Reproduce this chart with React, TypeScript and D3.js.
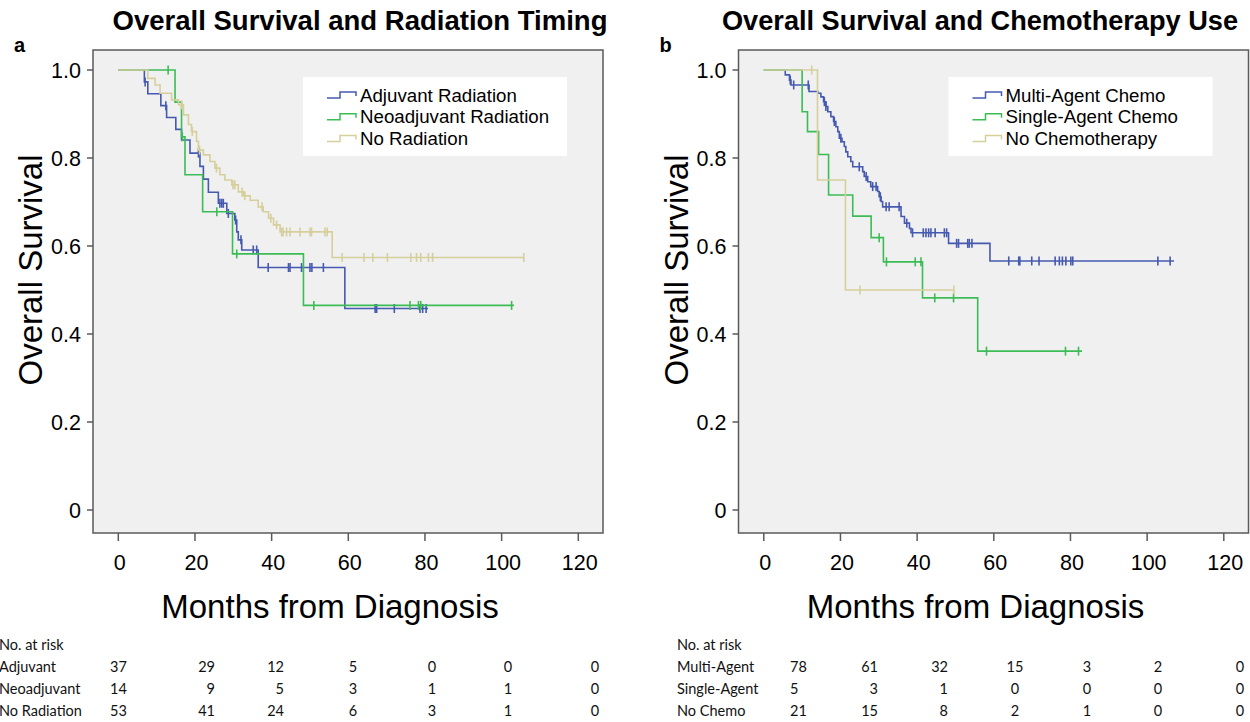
import React from "react";
import * as d3 from "d3";

// Axis ticks shared by both panels.
const monthTicks = [0, 20, 40, 60, 80, 100, 120];
const survivalTicks = [0, 0.2, 0.4, 0.6, 0.8, 1.0];

// Panel a: radiation timing. Steps are [month, survival after that month].
const adjuvantSteps: [number, number][] = [
    [0, 1], [6.8, 0.973], [7.7, 0.946], [11.1, 0.919], [12.6, 0.892], [15.0, 0.865], [16.5, 0.841],
    [18.7, 0.811], [21.3, 0.781], [22.2, 0.752], [23.5, 0.722], [26.1, 0.697], [28.3, 0.674],
    [30.4, 0.659], [30.9, 0.632], [31.3, 0.614], [32.2, 0.591], [36.5, 0.551], [59.1, 0.458],
];
const adjuvantCensored = [
    7.0, 12.4, 20.9, 26.5, 27.0, 27.4, 28.7, 30.6, 32.0, 35.2, 36.1, 39.1, 44.4, 44.8, 47.8, 50.0,
    50.5, 53.5, 67.0, 67.4, 72.0, 78.7, 79.4, 80.3,
];
const adjuvantEnd = 80.8;

const neoadjuvantSteps: [number, number][] = [
    [0, 1], [14.8, 0.927], [16.5, 0.848], [17.4, 0.762], [22.0, 0.678], [29.8, 0.582], [48.3, 0.465],
];
const neoadjuvantCensored = [13.0, 16.7, 25.7, 30.9, 51.0, 76.1, 78.3, 78.9, 102.6];
const neoadjuvantEnd = 103.2;

const noRadiationSteps: [number, number][] = [
    [0, 1], [7.7, 0.981], [9.6, 0.966], [10.9, 0.947], [13.9, 0.932], [15.7, 0.921], [17.0, 0.898],
    [18.3, 0.876], [19.1, 0.86], [20.4, 0.838], [20.9, 0.818], [22.2, 0.807], [23.9, 0.792],
    [25.2, 0.777], [26.5, 0.762], [27.8, 0.75], [29.6, 0.739], [31.3, 0.723], [32.6, 0.714],
    [34.4, 0.704], [36.5, 0.689], [37.8, 0.678], [39.2, 0.663], [40.5, 0.648], [42.2, 0.632],
    [55.8, 0.574],
];
const noRadiationCensored = [
    16.5, 19.3, 21.2, 25.6, 29.9, 30.4, 32.3, 33.0, 37.5, 39.8, 41.3, 42.6, 43.0, 43.9, 44.8, 47.4,
    50.0, 50.4, 53.9, 54.5, 58.4, 64.1, 66.4, 70.2, 76.3, 77.8, 78.9, 80.9, 82.0, 105.8,
];
const noRadiationEnd = 105.8;

// Panel b: chemotherapy use.
const multiAgentSteps: [number, number][] = [
    [0, 1], [5.6, 0.989], [6.7, 0.977], [7.1, 0.966], [11.8, 0.951], [14.1, 0.947], [14.9, 0.939],
    [15.6, 0.928], [16.2, 0.917], [16.7, 0.905], [17.5, 0.894], [18.2, 0.883], [18.8, 0.871],
    [19.3, 0.86], [19.7, 0.845], [20.4, 0.837], [21.0, 0.826], [21.4, 0.814], [21.9, 0.803],
    [22.7, 0.792], [23.2, 0.78], [25.8, 0.769], [26.2, 0.758], [27.1, 0.746], [27.9, 0.735],
    [29.7, 0.724], [30.1, 0.712], [30.6, 0.701], [31.0, 0.689], [35.8, 0.667], [36.7, 0.652],
    [38.0, 0.64], [38.4, 0.63], [48.2, 0.606], [59.0, 0.566],
];
const multiAgentCensored = [
    6.9, 7.8, 11.6, 15.8, 16.2, 18.4, 20.1, 24.9, 26.7, 28.4, 29.3, 30.4, 31.9, 32.7, 35.3, 37.3,
    38.8, 41.6, 42.3, 43.0, 43.6, 44.7, 47.1, 47.7, 50.3, 50.8, 53.2, 53.6, 54.3, 63.9, 66.5, 66.8,
    69.9, 71.8, 76.0, 77.1, 77.9, 78.8, 80.1, 80.6, 102.8, 106.0,
];
const multiAgentEnd = 107;

const singleAgentSteps: [number, number][] = [
    [0, 1], [10.0, 0.905], [11.4, 0.86], [14.3, 0.808], [16.9, 0.716], [23.2, 0.668], [28.0, 0.619],
    [31.2, 0.564], [41.4, 0.482], [55.8, 0.361],
];
const singleAgentCensored = [30.1, 32.0, 39.5, 41.0, 44.6, 49.5, 58.1, 78.7, 82.1];
const singleAgentEnd = 83;

const noChemoSteps: [number, number][] = [[0, 1], [14.0, 0.75], [21.3, 0.5]];
const noChemoCensored = [12.5, 25.1, 49.6];
const noChemoEnd = 49.6;

// Numbers at risk.
const riskLabelsA = ["Adjuvant", "Neoadjuvant", "No Radiation"];
const riskRowsA = [
    [37, 29, 12, 5, 0, 0, 0],
    [14, 9, 5, 3, 1, 1, 0],
    [53, 41, 24, 6, 3, 1, 0],
];
const riskLabelsB = ["Multi-Agent", "Single-Agent", "No Chemo"];
const riskRowsB = [
    [78, 61, 32, 15, 3, 2, 0],
    [5, 3, 1, 0, 0, 0, 0],
    [21, 15, 8, 2, 1, 0, 0],
];

const FONT = "'Liberation Sans', Arial, Helvetica, sans-serif";
const TABLE_FONT = "Lato, 'Open Sans', sans-serif";
const BLUE = "#4559b0";
const GREEN = "#3cbc55";
const TAN = "#d6cf9c";

interface ISeries {
    name: string;
    color: string;
    steps: [number, number][];
    censored: number[];
    end: number;
}

interface IPanelProps {
    dx: number;
    title: string;
    titleX: number;
    titleWidth: number;
    letter: string;
    series: ISeries[];
}

interface IColumn {
    x: number;
    anchor: "start" | "middle" | "end";
}

const survivalAt = (steps: [number, number][], t: number): number => {
    let s = steps[0][1];
    steps.forEach(([m, v]) => {
        if (m <= t) {
            s = v;
        }
    });

    return s;
};

const Panel = ({ dx, title, titleX, titleWidth, letter, series }: IPanelProps): React.ReactElement => {
    const left = 93 + dx;
    const right = 603 + dx;
    const top = 50;
    const bottom = 533;

    const x = d3.scaleLinear().domain([0, 120]).range([118.3 + dx, 578.3 + dx]);
    const y = d3.scaleLinear().domain([0, 1]).range([510, 70]);

    const line = d3.line<[number, number]>()
        .x((d) => { return x(d[0]); })
        .y((d) => { return y(d[1]); })
        .curve(d3.curveStepAfter);

    const fmt = (v: number): string => { return v === 0 ? "0" : d3.format(".1f")(v); };

    const legendX = 303 + dx;
    const legendY = 77;

    return (
        <g>
            <text x={titleX} y={30} textAnchor="middle" fontFamily={FONT} fontWeight="bold" fontSize={27}
                textLength={titleWidth} lengthAdjust="spacingAndGlyphs">{title}</text>
            <text x={14 + dx} y={52} fontFamily={FONT} fontWeight="bold" fontSize={20}>{letter}</text>

            <rect x={left} y={top} width={right - left} height={bottom - top} fill="#f0f0f0"
                stroke="#5a5a5a" strokeWidth={1.5} />

            {survivalTicks.map((t) => {
                return (
                    <g key={`y${t}`}>
                        <line x1={left - 6} x2={left} y1={y(t)} y2={y(t)} stroke="#5a5a5a" strokeWidth={1.5} />
                        <text x={left - 12} y={y(t)} dy="0.36em" textAnchor="end" fontFamily={FONT}
                            fontSize={21.5}>{fmt(t)}</text>
                    </g>
                );
            })}
            {monthTicks.map((t) => {
                return (
                    <g key={`x${t}`}>
                        <line x1={x(t)} x2={x(t)} y1={bottom} y2={bottom + 8} stroke="#5a5a5a" strokeWidth={1.5} />
                        <text x={x(t) + 1.5} y={569.5} textAnchor="middle" fontFamily={FONT}
                            fontSize={21.5}>{t}</text>
                    </g>
                );
            })}

            <text transform={`translate(${42 + dx},270) rotate(-90)`} textAnchor="middle" fontFamily={FONT}
                fontSize={33}>Overall Survival</text>
            <text x={330 + dx} y={618} textAnchor="middle" fontFamily={FONT} fontSize={33}>Months from Diagnosis</text>

            {series.map((s) => {
                const last = s.steps[s.steps.length - 1];
                const pts: [number, number][] = [...s.steps, [s.end, last[1]]];

                return (
                    <g key={s.name}>
                        <path d={line(pts) ?? ""} fill="none" stroke={s.color} strokeWidth={1.6} />
                        {s.censored.map((c, i) => {
                            const cy = y(survivalAt(s.steps, c));

                            return (
                                <line key={i} x1={x(c)} x2={x(c)} y1={cy - 4.5} y2={cy + 4.5} stroke={s.color}
                                    strokeWidth={1.6} />
                            );
                        })}
                    </g>
                );
            })}

            <rect x={legendX} y={legendY} width={264} height={79} fill="#ffffff" />
            {series.map((s, i) => {
                const cy = 95 + i * 21.7;
                const sx = legendX + 24;

                return (
                    <g key={`leg${s.name}`}>
                        <path d={`M${sx},${cy + 3}H${sx + 13}V${cy - 3}H${sx + 29}V${cy + 1}`} fill="none"
                            stroke={s.color} strokeWidth={1.5} />
                        <text x={legendX + 57} y={cy} dy="0.36em" fontFamily={FONT} fontSize={18.7}>{s.name}</text>
                    </g>
                );
            })}
        </g>
    );
};

const RiskTable = ({ labelX, labels, rows, columns }:
    { labelX: number; labels: string[]; rows: number[][]; columns: IColumn[] }): React.ReactElement => {
    const rowY = [645, 667, 689, 711];

    return (
        <g fontFamily={TABLE_FONT} fontSize={14.5} fill="#111">
            <text x={labelX} y={rowY[0]} dy="0.36em">No. at risk</text>
            {labels.map((label, r) => {
                return (
                    <g key={label}>
                        <text x={labelX} y={rowY[r + 1]} dy="0.36em">{label}</text>
                        {rows[r].map((v, c) => {
                            return (
                                <text key={c} x={columns[c].x} y={rowY[r + 1]} dy="0.36em"
                                    textAnchor={columns[c].anchor}>{v}</text>
                            );
                        })}
                    </g>
                );
            })}
        </g>
    );
};

const columnsA: IColumn[] = [
    { x: 110, anchor: "start" }, { x: 215, anchor: "end" }, { x: 284, anchor: "end" },
    { x: 353, anchor: "middle" }, { x: 432, anchor: "middle" }, { x: 508, anchor: "middle" },
    { x: 595, anchor: "middle" },
];
const columnsB: IColumn[] = [
    { x: 790, anchor: "start" }, { x: 878, anchor: "end" }, { x: 948, anchor: "end" },
    { x: 1015, anchor: "middle" }, { x: 1087, anchor: "middle" }, { x: 1158, anchor: "middle" },
    { x: 1240, anchor: "middle" },
];

const App = (): React.ReactElement => {
    const seriesA: ISeries[] = [
        { name: "Adjuvant Radiation", color: BLUE, steps: adjuvantSteps, censored: adjuvantCensored, end: adjuvantEnd },
        { name: "Neoadjuvant Radiation", color: GREEN, steps: neoadjuvantSteps, censored: neoadjuvantCensored,
            end: neoadjuvantEnd },
        { name: "No Radiation", color: TAN, steps: noRadiationSteps, censored: noRadiationCensored,
            end: noRadiationEnd },
    ];
    const seriesB: ISeries[] = [
        { name: "Multi-Agent Chemo", color: BLUE, steps: multiAgentSteps, censored: multiAgentCensored,
            end: multiAgentEnd },
        { name: "Single-Agent Chemo", color: GREEN, steps: singleAgentSteps, censored: singleAgentCensored,
            end: singleAgentEnd },
        { name: "No Chemotherapy", color: TAN, steps: noChemoSteps, censored: noChemoCensored, end: noChemoEnd },
    ];

    return (
        <svg width={1250} height={722} style={{ position: "absolute", left: 0, top: 0, background: "#fff" }}>
            <Panel dx={0} title="Overall Survival and Radiation Timing" titleX={360} titleWidth={495} letter="a"
                series={seriesA} />
            <Panel dx={645.5} title="Overall Survival and Chemotherapy Use" titleX={980} titleWidth={516}
                letter="b" series={seriesB} />
            <RiskTable labelX={-1} labels={riskLabelsA} rows={riskRowsA} columns={columnsA} />
            <RiskTable labelX={677} labels={riskLabelsB} rows={riskRowsB} columns={columnsB} />
        </svg>
    );
};

export default App;
